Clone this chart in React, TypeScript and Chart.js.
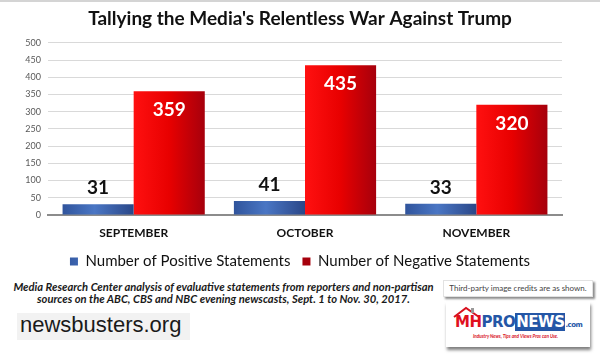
import React, { useEffect, useRef } from "react";
import { Chart, registerables } from "chart.js";

Chart.register(...registerables);

const categories = ["SEPTEMBER", "OCTOBER", "NOVEMBER"];
const positiveValues = [31, 41, 33];
const negativeValues = [359, 435, 320];
const seriesNames = ["Number of Positive Statements", "Number of Negative Statements"];
const yTickMin = 0;
const yTickMax = 500;
const yTickStep = 50;

const CAT_PCT = 0.83;

function barGradient(ctx: any, stops: [number, string][], fallback: string) {
  const chart = ctx.chart;
  if (!chart.chartArea || !chart.scales || !chart.scales.x) return fallback;
  const xs = chart.scales.x;
  const c = xs.getPixelForValue(ctx.dataIndex);
  const catW = xs.width / categories.length;
  const bw = (catW * CAT_PCT) / 2;
  const left = ctx.datasetIndex === 0 ? c - bw : c;
  const right = left + bw;
  const g = chart.ctx.createLinearGradient(left, 0, right, 0);
  stops.forEach(([o, col]) => g.addColorStop(o, col));
  return g;
}

const labelPlugin = {
  id: "valueLabels",
  afterDatasetsDraw(chart: any) {
    const { ctx } = chart;
    ctx.save();
    ctx.textAlign = "center";
    ctx.textBaseline = "middle";
    ctx.font = "bold 19px Lato";
    chart.data.datasets.forEach((ds: any, di: number) => {
      const meta = chart.getDatasetMeta(di);
      meta.data.forEach((bar: any, i: number) => {
        const v = ds.data[i];
        if (di === 0) {
          ctx.fillStyle = "#111111";
          ctx.fillText(String(v), bar.x, bar.y - 16);
        } else {
          ctx.fillStyle = "#ffffff";
          ctx.fillText(String(v), bar.x, bar.y + 19);
        }
      });
    });
    ctx.restore();
  },
};

function ChartCanvas() {
  const ref = useRef<HTMLCanvasElement | null>(null);
  useEffect(() => {
    if (!ref.current) return;
    const chart = new Chart(ref.current, {
      type: "bar",
      data: {
        labels: categories,
        datasets: [
          {
            label: seriesNames[0],
            data: positiveValues,
            backgroundColor: (c: any) =>
              barGradient(c, [[0, "#30549c"], [0.45, "#4a76c4"], [1, "#2a4788"]], "#3b64b0"),
            categoryPercentage: CAT_PCT,
            barPercentage: 1,
          },
          {
            label: seriesNames[1],
            data: negativeValues,
            backgroundColor: (c: any) =>
              barGradient(c, [[0, "#ff1010"], [0.5, "#e80000"], [1, "#a6000c"]], "#e00000"),
            categoryPercentage: CAT_PCT,
            barPercentage: 1,
          },
        ],
      },
      options: {
        responsive: false,
        animation: false,
        devicePixelRatio: 1,
        layout: { padding: 0 },
        plugins: {
          title: {
            display: true,
            text: "Tallying the Media's Relentless War Against Trump",
            color: "#111111",
            font: { family: "Lato", size: 19, weight: "bold", lineHeight: 1.2 },
            padding: { top: 7, bottom: 13 },
          },
          legend: {
            display: true,
            position: "bottom",
            labels: {
              boxWidth: 8,
              boxHeight: 8,
              padding: 12,
              color: "#111111",
              font: { family: "Lato", size: 15 },
            },
          },
          tooltip: { enabled: false },
        },
        scales: {
          x: {
            grid: { display: false, drawTicks: false },
            border: { display: true, color: "#8c8c8c", width: 2 },
            ticks: {
              color: "#111111",
              padding: 11,
              font: { family: "Lato", size: 12, weight: "bold" },
            },
            afterFit: (s: any) => {
              s.height = 27;
            },
          },
          y: {
            min: yTickMin,
            max: yTickMax,
            grid: {
              drawTicks: false,
              color: (c: any) => (c.tick && c.tick.value === 0 ? "rgba(0,0,0,0)" : "#d9d9d9"),
            },
            border: { display: false },
            ticks: {
              stepSize: yTickStep,
              color: "#595959",
              padding: 7,
              font: { family: "Lato", size: 9 },
            },
            afterFit: (s: any) => {
              s.width = 48;
            },
          },
          yRight: {
            type: "linear",
            position: "right",
            display: true,
            grid: { display: false, drawTicks: false },
            border: { display: false },
            ticks: { display: false },
            afterFit: (s: any) => {
              s.width = 38;
            },
          },
        },
      },
      plugins: [labelPlugin],
    } as any);
    return () => chart.destroy();
  }, []);
  return (
    <canvas
      ref={ref}
      width={600}
      height={279}
      style={{ position: "absolute", left: 0, top: 0, width: 600, height: 279 }}
    />
  );
}

export default function App() {
  return (
    <div
      style={{
        position: "absolute",
        left: 0,
        top: 0,
        width: 600,
        height: 355,
        background: "#ffffff",
        overflow: "hidden",
        fontFamily: "Lato, sans-serif",
      }}
    >
      <ChartCanvas />
      <div style={{ position: "absolute", left: 0, top: 0, width: 600, height: 2, background: "#d4d4d4" }} />
      <div
        style={{
          position: "absolute",
          left: 0,
          top: 281,
          width: 447,
          textAlign: "center",
          fontSize: 11.2,
          lineHeight: "12px",
          fontWeight: "bold",
          fontStyle: "italic",
          color: "#1a1a1a",
          whiteSpace: "nowrap",
        }}
      >
        <div>Media Research Center analysis of evaluative statements from reporters and non-partisan</div>
        <div>sources on the ABC, CBS and NBC evening newscasts, Sept. 1 to Nov. 30, 2017.</div>
      </div>
      <div
        style={{
          position: "absolute",
          left: 17,
          top: 313,
          width: 173,
          height: 27,
          background: "#f2f2f2",
          fontFamily: "'Liberation Sans', Arial, sans-serif",
          fontSize: 22,
          lineHeight: "23px",
          color: "#1a1a1a",
          paddingLeft: 3,
          boxSizing: "border-box",
        }}
      >
        newsbusters.org
      </div>
      <div
        style={{
          position: "absolute",
          left: 443,
          top: 280,
          width: 150,
          height: 17,
          background: "#ffffff",
          border: "1px solid #e2e2e2",
          boxShadow: "2px 2px 2px rgba(0,0,0,0.45)",
          boxSizing: "border-box",
          fontSize: 8,
          lineHeight: "15px",
          color: "#444444",
          textAlign: "center",
          whiteSpace: "nowrap",
        }}
      >
        Third-party image credits are as shown.
      </div>
      <div
        style={{
          position: "absolute",
          left: 446,
          top: 302,
          width: 144,
          height: 45,
          background: "#ffffff",
          boxShadow: "1px 3px 3px rgba(0,0,0,0.5)",
        }}
      >
        <svg width={144} height={45} style={{ position: "absolute", left: 0, top: 0 }}>
          <polyline points="8,15 20,6 33,15" fill="none" stroke="#d8101e" strokeWidth={2} />
          <rect x={25} y={6} width={3} height={5} fill="#999999" />
        </svg>
        <div
          style={{
            position: "absolute",
            left: 9,
            top: 12,
            fontFamily: "'DejaVu Sans', sans-serif",
            fontWeight: 900,
            fontSize: 15,
            lineHeight: "17px",
            letterSpacing: -0.5,
            whiteSpace: "nowrap",
          }}
        >
          <span style={{ color: "#e0101e" }}>MH</span>
          <span style={{ color: "#2456a6" }}>PRO</span>
          <span style={{ color: "#ffffff", background: "#2456a6", padding: "0 1px" }}>NEWS</span>
          <span style={{ color: "#2456a6", fontSize: 7 }}>.com</span>
        </div>
        <div
          style={{
            position: "absolute",
            left: 27,
            top: 31,
            fontSize: 4.6,
            fontWeight: "bold",
            fontStyle: "italic",
            color: "#d8101e",
            whiteSpace: "nowrap",
          }}
        >
          Industry News, Tips and Views Pros can Use.
        </div>
      </div>
    </div>
  );
}
